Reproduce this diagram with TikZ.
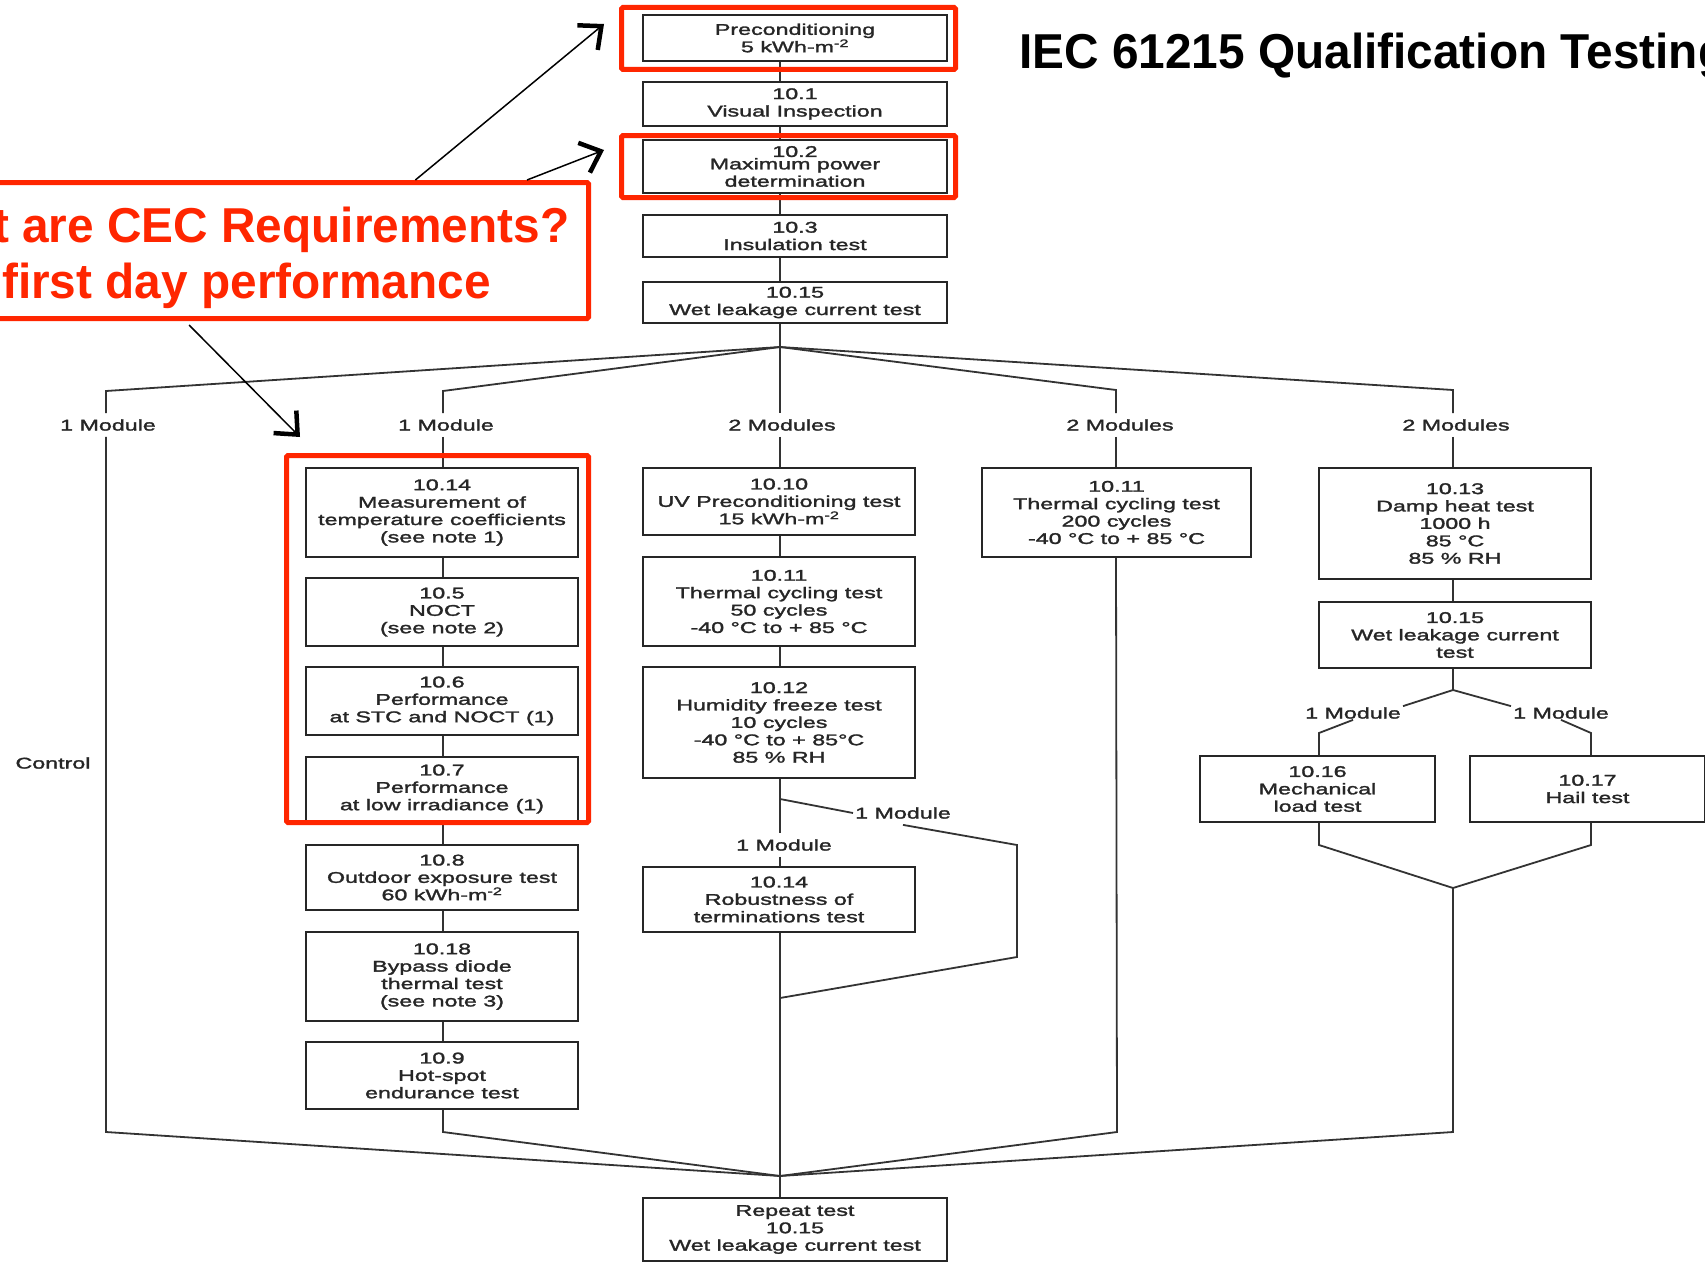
\documentclass[tikz,border=0pt]{standalone}
\usepackage{fontspec}
\usetikzlibrary{arrows.meta,calc}
\newfontfamily\diagfont[FakeStretch=1.5,FakeBold=1.8]{Liberation Sans}
\newfontfamily\headfont[FakeStretch=0.975]{Liberation Sans}
\definecolor{cecred}{RGB}{255,38,0}
\begin{document}
\begin{tikzpicture}[x=1pt,y=-1pt,
  testbox/.style={draw=black!85, line width=1.8pt, fill=white, align=center,
    inner sep=0pt, text=black!85, font=\diagfont\fontsize{15.5}{17.4}\selectfont},
  tag/.style={align=center, inner xsep=2pt, inner ysep=6pt, text=black!85,
    font=\diagfont\fontsize{15.5}{17.4}\selectfont},
  tagslim/.style={tag, inner ysep=1pt},
  flow/.style={draw=black!80, line width=1.8pt},
  redframe/.style={draw=cecred, line width=5pt, rounded corners=1.5pt, inner sep=0pt},
  callout/.style={draw=black, line width=1.5pt,
    -{Straight Barb[length=18pt,width=32pt,line width=4.5pt]}},
  big/.style={anchor=base west, inner sep=0pt,
    font=\headfont\bfseries\fontsize{49}{55}\selectfont}
]
\useasboundingbox (0,0) rectangle (1705,1263);
\clip (0,0) rectangle (1705,1263);
\fill[white] (0,0) rectangle (1705,1263);

% ---------- common sequence ----------
\node[testbox, minimum width=304, minimum height=46] (pre) at (795,38)
  {Preconditioning\\5 kWh-m\textsuperscript{-2}};
\node[testbox, minimum width=304, minimum height=44] (v101) at (795,104)
  {10.1\\Visual Inspection};
\node[testbox, minimum width=304, minimum height=53] (v102) at (795,166.5)
  {10.2\\[-5pt]Maximum power\\determination};
\node[testbox, minimum width=304, minimum height=42] (v103) at (795,236)
  {10.3\\Insulation test};
\node[testbox, minimum width=304, minimum height=41] (v1015) at (795,302.5)
  {10.15\\Wet leakage current test};

% ---------- branch labels ----------
\node[tag] (lab1) at (108,425) {1 Module};
\node[tag] (lab2) at (446,425) {1 Module};
\node[tag] (lab3) at (782,425) {2 Modules};
\node[tag] (lab4) at (1120,425) {2 Modules};
\node[tag] (lab5) at (1456,425) {2 Modules};
\node[tag] (ctrl) at (53,763) {Control};

% ---------- sequence B (1 module) ----------
\node[testbox, minimum width=272, minimum height=89] (m14) at (442,512.5)
  {10.14\\Measurement of\\temperature coefficients\\(see note 1)};
\node[testbox, minimum width=272, minimum height=68] (m5) at (442,612)
  {10.5\\NOCT\\(see note 2)};
\node[testbox, minimum width=272, minimum height=68] (m6) at (442,701)
  {10.6\\Performance\\at STC and NOCT (1)};
\node[testbox, minimum width=272, minimum height=64] (m7) at (442,789)
  {10.7\\Performance\\at low irradiance (1)};
\node[testbox, minimum width=272, minimum height=65] (m8) at (442,877.5)
  {10.8\\Outdoor exposure test\\60 kWh-m\textsuperscript{-2}};
\node[testbox, minimum width=272, minimum height=89] (m18) at (442,976.5)
  {10.18\\Bypass diode\\thermal test\\(see note 3)};
\node[testbox, minimum width=272, minimum height=67] (m9) at (442,1075.5)
  {10.9\\Hot-spot\\endurance test};

% ---------- sequence C (2 modules) ----------
\node[testbox, minimum width=272, minimum height=67] (u10) at (779,501.5)
  {10.10\\UV Preconditioning test\\15 kWh-m\textsuperscript{-2}};
\node[testbox, minimum width=272, minimum height=89] (u11) at (779,601.5)
  {10.11\\Thermal cycling test\\50 cycles\\-40 °C to + 85 °C};
\node[testbox, minimum width=272, minimum height=111] (u12) at (779,722.5)
  {10.12\\Humidity freeze test\\10 cycles\\-40 °C to + 85°C\\85 \% RH};
\node[tag] (lab3b) at (784,845) {1 Module};
\node[tag] (lab3c) at (903,813) {1 Module};
\node[testbox, minimum width=272, minimum height=65] (r14) at (779,899.5)
  {10.14\\Robustness of\\terminations test};

% ---------- sequence D (2 modules) ----------
\node[testbox, minimum width=269, minimum height=89] (t200) at (1116.5,512.5)
  {10.11\\Thermal cycling test\\200 cycles\\-40 °C to + 85 °C};

% ---------- sequence E (2 modules) ----------
\node[testbox, minimum width=272, minimum height=111] (dh) at (1455,523.5)
  {10.13\\Damp heat test\\1000 h\\85 °C\\85 \% RH};
\node[testbox, minimum width=272, minimum height=66] (wl) at (1455,635)
  {10.15\\Wet leakage current\\test};
\node[tagslim] (lm1) at (1353,713) {1 Module};
\node[tagslim] (lm2) at (1561,713) {1 Module};
\node[testbox, minimum width=235, minimum height=66] (m16) at (1317.5,789)
  {10.16\\Mechanical\\load test};
\node[testbox, minimum width=235, minimum height=66] (h17) at (1587.5,789)
  {10.17\\Hail test};

% ---------- final check ----------
\node[testbox, minimum width=304, minimum height=63] (rep) at (795,1229.5)
  {Repeat test\\10.15\\Wet leakage current test};

% ---------- connectors ----------
\coordinate (tx) at (780,0);
\coordinate (fan) at (780,347);
\coordinate (c1) at (106,391);
\coordinate (c2) at (443,391);
\coordinate (c4) at (1116,390);
\coordinate (c5) at (1453,390);
\coordinate (j1) at (106,1132);
\coordinate (j2) at (443,1132);
\coordinate (j4) at (1117,1132);
\coordinate (j5) at (1453,1132);
\coordinate (sink) at (780,1176);

\draw[flow] (pre.south -| tx) -- (v101.north -| tx);
\draw[flow] (v101.south -| tx) -- (v102.north -| tx);
\draw[flow] (v102.south -| tx) -- (v103.north -| tx);
\draw[flow] (v103.south -| tx) -- (v1015.north -| tx);
\draw[flow] (v1015.south -| tx) -- (fan);

\draw[flow] (fan) -- (c1) -- (lab1.north -| c1);
\draw[flow] (fan) -- (c2) -- (lab2.north -| c2);
\draw[flow] (fan) -- (lab3.north -| tx);
\draw[flow] (fan) -- (c4) -- (lab4.north -| c4);
\draw[flow] (fan) -- (c5) -- (lab5.north -| c5);

% control module
\draw[flow] (lab1.south -| c1) -- (j1) -- (sink);

% sequence B
\draw[flow] (lab2.south -| c2) -- (m14.north -| c2);
\draw[flow] (m14.south -| c2) -- (m5.north -| c2);
\draw[flow] (m5.south -| c2) -- (m6.north -| c2);
\draw[flow] (m6.south -| c2) -- (m7.north -| c2);
\draw[flow] (m7.south -| c2) -- (m8.north -| c2);
\draw[flow] (m8.south -| c2) -- (m18.north -| c2);
\draw[flow] (m18.south -| c2) -- (m9.north -| c2);
\draw[flow] (m9.south -| c2) -- (j2) -- (sink);

% sequence C
\draw[flow] (lab3.south -| tx) -- (u10.north -| tx);
\draw[flow] (u10.south -| tx) -- (u11.north -| tx);
\draw[flow] (u11.south -| tx) -- (u12.north -| tx);
\draw[flow] (u12.south -| tx) -- (lab3b.north -| tx);
\draw[flow] (lab3b.south -| tx) -- (r14.north -| tx);
\draw[flow] (r14.south -| tx) -- (sink) -- (rep.north -| tx);
\coordinate (sb) at (780,799);
\coordinate (sbk) at (1017,845);
\coordinate (sbd) at (1017,957);
\coordinate (mg3) at (780,998);
\draw[flow] (sb) -- (lab3c.west);
\draw[flow] (lab3c.south) -- (sbk) -- (sbd) -- (mg3);

% sequence D
\draw[flow] (lab4.south -| c4) -- (t200.north -| c4);
\draw[flow] (t200.south -| c4) -- (j4) -- (sink);

% sequence E
\coordinate (fork) at (1453,690);
\coordinate (k16) at (1319,733);
\coordinate (k17) at (1591,733);
\coordinate (d16) at (1319,845);
\coordinate (d17) at (1591,845);
\coordinate (mg5) at (1453,888);
\draw[flow] (lab5.south -| c5) -- (dh.north -| c5);
\draw[flow] (dh.south -| c5) -- (wl.north -| c5);
\draw[flow] (wl.south -| c5) -- (fork);
\draw[flow] (fork) -- (lm1.north east);
\draw[flow] (fork) -- (lm2.north west);
\draw[flow] (lm1.south) -- (k16) -- (m16.north -| k16);
\draw[flow] (lm2.south) -- (k17) -- (h17.north -| k17);
\draw[flow] (m16.south -| k16) -- (d16) -- (mg5);
\draw[flow] (h17.south -| k17) -- (d17) -- (mg5);
\draw[flow] (mg5) -- (j5) -- (sink);

% ---------- highlight frames ----------
\node[redframe, minimum width=334, minimum height=62] (fpre) at (788.5,38.5) {};
\node[redframe, minimum width=334, minimum height=62] (f102) at (788.5,166.5) {};
\node[redframe, minimum width=302, minimum height=367] (fcol) at (437.5,639) {};
\node[redframe, minimum width=598.5, minimum height=136] (cec) at (289.25,250.5) {};

\node[big, text=cecred] (q1) at (-7,242) {t are CEC Requirements?};
\node[big, text=cecred] (q2) at (2,298) {first day performance};
\node[big, text=black] (title) at (1019,68) {IEC 61215 Qualification Testing};

% ---------- callout arrows ----------
\draw[callout] ($(cec.north west)!0.709!(cec.north east)$) -- ($(fpre.west)+(-15,-14.5)$);
\draw[callout] ($(cec.north west)!0.894!(cec.north east)$) -- ($(f102.west)+(-15,-16.5)$);
\draw[callout] ($(cec.south west)!0.334!(cec.south east)+(0,4)$) -- ($(fcol.north west)+(16,-16)$);
\end{tikzpicture}
\end{document}
